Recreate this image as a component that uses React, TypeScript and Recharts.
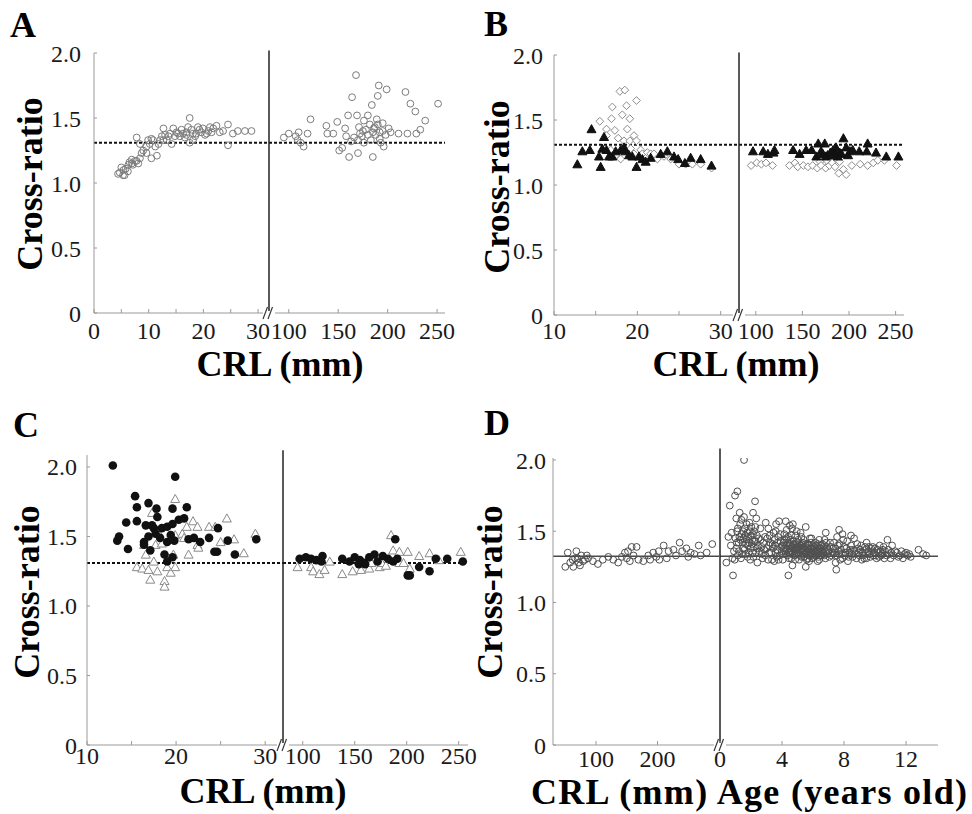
import React from 'react';
import { ScatterChart, Scatter, XAxis, YAxis, ReferenceLine, ReferenceDot } from 'recharts';

type Pt = [number, number];

// ---------- Panel A ----------
const aEmbryoCircles: Pt[] = [
  [4.4,1.07],[4.7,1.08],[5.0,1.12],[5.3,1.06],[5.4,1.10],[5.6,1.06],[5.8,1.11],[6.2,1.09],[6.3,1.14],[6.5,1.16],
  [6.9,1.15],[6.9,1.18],[7.1,1.14],[7.5,1.17],[7.8,1.17],[8.1,1.15],[8.4,1.19],[8.7,1.23],[9.0,1.25],[7.8,1.35],
  [8.4,1.30],[9.6,1.28],[9.6,1.23],[9.9,1.33],[10.2,1.30],[10.5,1.19],[10.5,1.34],[10.8,1.33],[11.2,1.28],[11.5,1.21],
  [11.8,1.30],[12.1,1.33],[12.4,1.36],[12.7,1.42],[12.7,1.33],[13.0,1.37],[13.3,1.33],[13.6,1.36],[13.9,1.38],[14.2,1.30],
  [14.5,1.42],[14.8,1.36],[15.1,1.39],[15.4,1.38],[15.7,1.36],[16.0,1.41],[16.3,1.38],[16.6,1.35],[16.9,1.37],[16.9,1.39],
  [17.2,1.43],[17.5,1.50],[17.5,1.31],[17.8,1.41],[18.1,1.33],[18.1,1.38],[18.5,1.36],[18.7,1.38],[19.0,1.43],[19.3,1.41],
  [19.6,1.39],[19.9,1.42],[20.3,1.37],[20.6,1.38],[20.9,1.40],[21.2,1.43],[21.5,1.39],[21.8,1.42],[22.4,1.44],[23.0,1.39],
  [23.6,1.40],[24.5,1.45],[24.5,1.29],[25.4,1.38],[26.3,1.40],[27.6,1.40],[28.8,1.40],
];
const aFetusCircles: Pt[] = [
  [95,1.35],[100,1.38],[107,1.36],[109,1.33],[110,1.39],[112,1.31],[115,1.28],[119,1.38],[122,1.49],[138,1.44],
  [139,1.38],[145,1.38],[149,1.47],[151,1.25],[154,1.27],[157,1.42],[158,1.36],[160,1.52],[161,1.20],[163,1.32],
  [164,1.66],[166,1.35],[168,1.83],[169,1.52],[170,1.23],[170,1.33],[171,1.43],[172,1.38],[174,1.36],[175,1.40],
  [176,1.48],[176,1.31],[178,1.41],[180,1.52],[180,1.37],[182,1.45],[183,1.33],[184,1.60],[185,1.20],[185,1.39],
  [186,1.42],[187,1.43],[188,1.37],[189,1.49],[190,1.67],[190,1.45],[191,1.75],[192,1.39],[192,1.34],[193,1.31],
  [195,1.46],[195,1.40],[196,1.28],[198,1.37],[199,1.72],[201,1.42],[203,1.39],[211,1.38],[218,1.70],[220,1.38],
  [223,1.61],[228,1.55],[229,1.38],[233,1.41],[238,1.48],[251,1.61],
];

// ---------- Panel B ----------
const bEmbryoDiamonds: Pt[] = [
  [15.5,1.49],[16.3,1.43],[16.3,1.38],[16.8,1.27],[16.9,1.51],[17.0,1.60],[17.3,1.42],[17.4,1.23],[17.7,1.36],[17.9,1.72],
  [18.0,1.20],[18.2,1.54],[18.4,1.34],[18.5,1.73],[18.7,1.61],[18.8,1.43],[19.1,1.51],[19.1,1.34],[19.2,1.28],[19.6,1.38],
  [19.6,1.24],[19.9,1.65],[19.9,1.34],[20.4,1.27],[20.6,1.24],[21.2,1.25],[21.6,1.24],[22.0,1.24],[22.4,1.20],[23.2,1.22],
  [24.0,1.20],[25.0,1.16],[25.8,1.16],[26.6,1.16],[27.6,1.16],[28.9,1.13],
];
const bEmbryoTriangles: Pt[] = [
  [12.8,1.16],[13.4,1.26],[14.3,1.27],[14.5,1.43],[15.4,1.22],[15.6,1.14],[15.8,1.28],[16.0,1.37],[16.3,1.27],[16.6,1.22],
  [17.0,1.22],[17.4,1.26],[18.0,1.27],[18.4,1.29],[18.6,1.26],[19.0,1.23],[19.4,1.22],[19.9,1.14],[20.2,1.22],[20.6,1.20],
  [21.0,1.18],[21.6,1.21],[22.8,1.24],[23.6,1.26],[24.4,1.22],[24.9,1.20],[25.7,1.17],[26.4,1.21],[27.6,1.20],[28.9,1.15],
];
const bFetusDiamonds: Pt[] = [
  [95,1.15],[101,1.17],[106,1.16],[111,1.17],[118,1.15],[136,1.15],[142,1.17],[145,1.14],[151,1.15],[156,1.14],
  [161,1.15],[166,1.13],[169,1.18],[170,1.15],[175,1.13],[176,1.19],[179,1.15],[182,1.17],[185,1.14],[189,1.09],
  [190,1.18],[194,1.12],[197,1.08],[203,1.15],[212,1.16],[220,1.15],[226,1.17],[231,1.19],[238,1.19],[251,1.15],
];
const bFetusTriangles: Pt[] = [
  [97,1.26],[108,1.26],[113,1.24],[119,1.25],[120,1.27],[140,1.27],[147,1.24],[154,1.27],[160,1.27],[165,1.22],
  [167,1.32],[170,1.26],[172,1.24],[174,1.32],[175,1.22],[177,1.23],[180,1.25],[183,1.27],[185,1.23],[186,1.29],
  [188,1.22],[190,1.25],[192,1.24],[194,1.36],[197,1.29],[199,1.23],[201,1.26],[204,1.27],[211,1.26],[219,1.26],
  [220,1.32],[229,1.25],[240,1.22],[253,1.22],
];

// ---------- Panel C ----------
const cEmbryoDots: Pt[] = [
  [12.9,2.01],[13.4,1.47],[13.6,1.50],[14.4,1.60],[14.6,1.41],[15.4,1.79],[15.6,1.71],[15.6,1.61],[16.4,1.44],[16.4,1.46],
  [16.6,1.58],[16.9,1.74],[16.9,1.50],[17.1,1.40],[17.3,1.58],[17.5,1.56],[17.7,1.52],[17.8,1.70],[17.9,1.64],[18.2,1.49],
  [18.4,1.56],[18.7,1.37],[19.0,1.57],[19.0,1.46],[19.0,1.32],[19.4,1.51],[19.6,1.70],[19.6,1.59],[19.6,1.35],[19.8,1.47],
  [19.9,1.93],[20.3,1.62],[20.9,1.63],[21.2,1.71],[21.4,1.48],[22.0,1.49],[22.7,1.46],[23.7,1.49],[24.3,1.39],[24.6,1.39],
  [24.7,1.56],[25.8,1.47],[26.6,1.37],[29.0,1.48],
];
const cEmbryoTriangles: Pt[] = [
  [15.6,1.28],[16.2,1.27],[16.4,1.44],[16.6,1.37],[16.9,1.26],[17.1,1.19],[17.3,1.67],[17.5,1.32],[17.7,1.44],[17.9,1.54],
  [17.9,1.25],[18.4,1.45],[18.7,1.18],[18.7,1.14],[19.0,1.28],[19.4,1.24],[19.7,1.37],[19.9,1.77],[19.9,1.51],[19.9,1.28],
  [20.7,1.52],[20.9,1.49],[21.2,1.57],[21.4,1.37],[21.9,1.61],[22.4,1.57],[22.4,1.44],[22.5,1.42],[23.7,1.57],[24.4,1.57],
  [25.0,1.46],[25.7,1.63],[26.5,1.48],[27.6,1.38],[28.9,1.52],
];
const cFetusDots: Pt[] = [
  [97,1.34],[103,1.35],[108,1.34],[113,1.33],[118,1.32],[119,1.36],[138,1.34],[145,1.32],[150,1.35],[154,1.30],
  [155,1.33],[159,1.31],[160,1.30],[164,1.35],[169,1.37],[172,1.32],[177,1.36],[182,1.34],[187,1.32],[189,1.48],
  [191,1.34],[201,1.22],[203,1.22],[212,1.28],[222,1.25],[228,1.34],[239,1.34],[254,1.32],
];
const cFetusTriangles: Pt[] = [
  [95,1.28],[108,1.28],[110,1.25],[116,1.23],[121,1.26],[126,1.32],[138,1.23],[148,1.25],[156,1.26],[164,1.27],
  [166,1.31],[174,1.28],[176,1.31],[180,1.29],[185,1.51],[187,1.40],[193,1.39],[193,1.31],[197,1.31],[201,1.39],
  [203,1.27],[212,1.36],[222,1.38],[231,1.33],[252,1.39],
];

// ---------- Panel D ----------
const dFetusCircles: Pt[] = [
  [50,1.25],[54,1.35],[58,1.28],[62,1.30],[63,1.25],[66,1.31],[68,1.36],[70,1.31],[72,1.28],[74,1.26],
  [76,1.33],[79,1.29],[82,1.30],[85,1.33],[87,1.31],[95,1.29],[103,1.27],[111,1.30],[120,1.32],[128,1.30],
  [136,1.28],[142,1.32],[147,1.35],[150,1.31],[152,1.36],[155,1.29],[158,1.39],[161,1.33],[166,1.39],[169,1.30],
  [177,1.29],[185,1.33],[188,1.30],[193,1.35],[198,1.32],[202,1.36],[203,1.30],[210,1.40],[215,1.31],[218,1.36],
  [226,1.37],[230,1.33],[236,1.42],[240,1.36],[247,1.38],[250,1.32],[254,1.35],[260,1.34],[267,1.40],[270,1.33],
  [280,1.35],[289,1.41],
];
const dAgeCircles: Pt[] = [
  [0.41,1.28],[0.54,1.46],[0.63,1.68],[0.84,1.19],[0.97,1.75],[1.05,1.59],[1.12,1.78],[1.27,1.63],[1.55,2.00],[2.13,1.63],
  [2.26,1.71],[2.34,1.59],[2.41,1.28],[0.9,1.36],[1.0,1.45],[1.1,1.50],[1.2,1.42],[1.3,1.55],[1.4,1.48],[1.5,1.38],
  [1.6,1.52],[1.7,1.44],[1.8,1.40],[1.9,1.56],[2.0,1.47],[2.1,1.35],[2.2,1.50],[2.3,1.43],[2.4,1.38],[1.15,1.33],
  [1.35,1.31],[1.45,1.42],[1.65,1.34],[1.75,1.49],[1.95,1.30],[2.05,1.41],[2.5,1.45],[0.7,1.40],[0.8,1.31],[1.25,1.46],
  [1.55,1.60],[1.85,1.35],[2.15,1.32],
  [0.95,1.30],[1.05,1.38],[1.15,1.52],[1.22,1.36],[1.32,1.44],[1.38,1.58],[1.42,1.34],[1.48,1.50],[1.52,1.45],[1.58,1.37],
  [1.62,1.47],[1.68,1.41],[1.72,1.55],[1.78,1.32],[1.82,1.46],[1.88,1.42],[1.92,1.50],[1.98,1.38],[2.02,1.53],[2.08,1.44],
  [2.12,1.48],[2.18,1.39],[2.22,1.43],[2.28,1.53],[2.32,1.35],[2.38,1.47],[2.45,1.40],[2.55,1.36],[0.75,1.49],[1.08,1.42],
  [2.6,1.52],[2.7,1.34],[2.8,1.42],[2.95,1.56],[3.0,1.38],[3.1,1.30],[3.2,1.47],[3.3,1.35],[3.4,1.41],[3.5,1.29],
  [3.6,1.50],[3.7,1.37],[3.81,1.57],[3.9,1.43],[3.85,1.33],[2.9,1.46],[3.15,1.40],[3.45,1.49],[3.65,1.32],
  [2.62,1.44],[2.68,1.39],[2.75,1.31],[2.85,1.37],[2.92,1.33],[3.05,1.45],[3.12,1.52],[3.18,1.35],[3.25,1.42],[3.35,1.30],
  [3.42,1.38],[3.52,1.44],[3.58,1.35],[3.62,1.55],[3.72,1.42],[3.78,1.30],[3.88,1.48],[3.95,1.39],[3.55,1.40],[3.75,1.46],
  [4.0,1.36],[4.1,1.42],[4.2,1.38],[4.24,1.57],[4.3,1.45],[4.35,1.33],[4.41,1.19],[4.5,1.40],[4.55,1.35],[4.6,1.47],
  [4.67,1.26],[4.7,1.38],[4.75,1.43],[4.8,1.33],[4.85,1.37],[4.9,1.41],[4.95,1.35],[5.0,1.39],[5.05,1.44],[5.1,1.34],
  [5.15,1.37],[5.2,1.40],[5.25,1.32],[5.3,1.38],[5.35,1.42],[5.4,1.36],[5.45,1.34],[5.5,1.39],[5.53,1.53],[5.53,1.25],
  [5.6,1.36],[5.65,1.41],[5.7,1.33],[5.75,1.37],[5.8,1.45],[5.85,1.35],[5.9,1.38],[5.95,1.31],[6.0,1.40],[6.05,1.36],
  [6.1,1.33],[6.15,1.42],[6.2,1.37],[6.25,1.34],[6.3,1.39],[6.35,1.32],[6.4,1.44],[6.45,1.36],[6.5,1.38],[6.55,1.33],
  [6.6,1.41],[6.65,1.35],[6.7,1.37],[6.82,1.49],[6.8,1.31],[6.9,1.39],[4.05,1.30],[4.45,1.31],[4.15,1.48],[4.65,1.52],
  [5.75,1.29],[6.3,1.29],[4.25,1.34],[4.55,1.41],[4.85,1.30],[5.25,1.46],[5.65,1.31],[6.0,1.34],
  [4.02,1.40],[4.08,1.34],[4.12,1.38],[4.18,1.44],[4.22,1.36],[4.28,1.40],[4.32,1.37],[4.38,1.42],[4.42,1.35],[4.48,1.38],
  [4.52,1.44],[4.58,1.36],[4.62,1.39],[4.68,1.34],[4.72,1.41],[4.78,1.36],[4.82,1.40],[4.88,1.34],[4.92,1.38],[4.98,1.42],
  [5.02,1.35],[5.08,1.39],[5.12,1.41],[5.18,1.33],[5.22,1.37],[5.28,1.41],[5.32,1.35],[5.38,1.39],[5.42,1.32],[5.48,1.37],
  [5.52,1.41],[5.58,1.34],[5.62,1.38],[5.68,1.36],[5.72,1.40],[5.78,1.33],[5.82,1.38],[5.88,1.42],[5.92,1.35],[5.98,1.37],
  [6.02,1.32],[6.08,1.39],[6.12,1.36],[6.18,1.40],[6.22,1.33],[6.28,1.36],[6.32,1.41],[6.38,1.35],[6.42,1.38],[6.48,1.33],
  [6.52,1.40],[6.58,1.36],[6.62,1.34],[6.68,1.39],[6.72,1.33],[6.78,1.36],[6.85,1.42],[6.92,1.34],[6.98,1.37],[4.4,1.46],
  [4.9,1.47],[5.4,1.44],[5.9,1.45],[6.4,1.30],[5.1,1.30],[4.6,1.31],[5.6,1.30],[6.75,1.44],[4.3,1.51],[4.5,1.54],
  [4.7,1.55],[4.95,1.50],[5.2,1.49],
  [7.0,1.36],[7.1,1.42],[7.2,1.33],[7.3,1.38],[7.46,1.28],[7.5,1.23],[7.4,1.35],[7.6,1.40],[7.68,1.51],[7.7,1.34],
  [7.8,1.37],[7.9,1.31],[8.0,1.39],[8.1,1.35],[8.2,1.43],[8.3,1.32],[8.4,1.37],[8.5,1.34],[8.65,1.45],[8.7,1.36],
  [8.8,1.31],[8.9,1.38],[9.0,1.33],[9.1,1.40],[9.2,1.35],[9.3,1.31],[9.4,1.37],[9.5,1.34],[9.6,1.39],[9.7,1.32],
  [9.8,1.36],[9.9,1.33],[10.0,1.38],[10.1,1.31],[10.2,1.35],[10.3,1.40],[10.4,1.33],[10.5,1.37],[10.6,1.31],[10.8,1.44],
  [10.9,1.34],[11.1,1.40],[11.0,1.31],[11.3,1.36],[11.5,1.32],[11.7,1.36],[11.9,1.34],[12.1,1.33],[12.3,1.32],[12.8,1.37],
  [13.1,1.34],[13.3,1.33],[7.55,1.46],[8.25,1.29],[9.15,1.30],[9.85,1.39],[10.65,1.36],
  [7.05,1.32],[7.15,1.39],[7.25,1.35],[7.35,1.42],[7.45,1.38],[7.52,1.33],[7.62,1.36],[7.72,1.41],[7.75,1.30],[7.85,1.34],
  [7.95,1.44],[8.05,1.33],[8.15,1.38],[8.35,1.35],[8.45,1.40],[8.55,1.32],[8.6,1.37],[8.75,1.34],[8.85,1.41],[8.95,1.35],
  [9.05,1.37],[9.25,1.33],[9.35,1.39],[9.45,1.31],[9.55,1.36],[9.65,1.34],[9.75,1.38],[9.95,1.35],[10.05,1.33],[10.15,1.37],
  [10.25,1.32],[10.35,1.36],[10.45,1.34],[10.55,1.39],[10.75,1.33],[10.85,1.37],[11.05,1.35],[11.2,1.33],[11.4,1.35],[11.6,1.33],
  [11.8,1.31],[12.0,1.35],[12.2,1.34],[7.9,1.48],[8.45,1.47],[9.45,1.42],
];

// ---------- Axes ----------
const yTicks = [0, 0.5, 1, 1.5, 2];
const aEmbryoTicks = [0, 5, 10, 15, 20, 25, 30];
const aEmbryoLabels = [0, 10, 20, 30];
const crlTicks = [100, 150, 200, 250];
const bcEmbryoTicks = [10, 15, 20, 25, 30];
const bcEmbryoLabels = [10, 20, 30];
const dCrlTicks = [100, 200];
const dAgeTicks = [0, 4, 8, 12];

const referenceRatio = 1.31;
const dReferenceRatio = 1.325;

const FONT = '"Liberation Serif", "Times New Roman", Times, serif';

// ---------- Marker shapes ----------
const openCircle = (r: number, stroke: string) => (p: any) => (
  <circle cx={p.cx} cy={p.cy} r={r} fill="none" stroke={stroke} strokeWidth={1} />
);
const openDiamond = (p: any) => {
  const s = 3.9;
  return (
    <polygon
      points={`${p.cx},${p.cy - s} ${p.cx + s},${p.cy} ${p.cx},${p.cy + s} ${p.cx - s},${p.cy}`}
      fill="#fff" stroke="#8c8c8c" strokeWidth={1}
    />
  );
};
const triangle = (fill: string, stroke: string) => (p: any) => {
  const s = 4.5;
  return (
    <polygon
      points={`${p.cx},${p.cy - s} ${p.cx + s},${p.cy + s * 0.8} ${p.cx - s},${p.cy + s * 0.8}`}
      fill={fill} stroke={stroke} strokeWidth={1}
    />
  );
};
const filledDot = (p: any) => <circle cx={p.cx} cy={p.cy} r={4.3} fill="#111" />;

const BreakMark = (p: any) => {
  const { cx, cy } = p;
  return (
    <g>
      <rect x={cx - 6} y={cy - 2} width={12} height={4} fill="#fff" />
      <line x1={cx - 6} y1={cy + 6} x2={cx - 1.5} y2={cy - 6} stroke="#333" strokeWidth={1.2} />
      <line x1={cx - 1} y1={cy + 6} x2={cx + 3.5} y2={cy - 6} stroke="#333" strokeWidth={1.2} />
    </g>
  );
};

type Series = { name: string; data: Pt[]; shape: (p: any) => React.ReactElement };

interface SubPlotProps {
  left: number; right: number; top: number; bottom: number;
  xDomain: [number, number]; yMax: number;
  xTicks: number[]; xLabels: number[];
  series: Series[];
  showY?: boolean; yGap?: number; xLabelOffset: number;
  refY: number; refDashed: boolean;
  dividerTop?: number;
}

function SubPlot(p: SubPlotProps) {
  const padL = p.showY ? 90 : 14;
  const padR = 14, padT = 20, padB = 45;
  const yW = p.showY ? 80 : 0;
  const xH = 40;
  const w = p.right - p.left + padL + padR;
  const h = p.bottom - p.top + padT + padB;
  const fs = 24;
  const tickStyle = { fontFamily: FONT, fontSize: fs, fill: '#1a1a1a' };
  return (
    <div style={{ position: 'absolute', left: p.left - padL, top: p.top - padT, width: w, height: h }}>
      <ScatterChart width={w} height={h} margin={{ top: padT, right: padR, bottom: padB - xH, left: padL - yW }}>
        <XAxis
          type="number" dataKey="x" domain={p.xDomain} allowDataOverflow
          ticks={p.xTicks} interval={0}
          tickFormatter={(v: number) => (p.xLabels.includes(v) ? String(v) : '')}
          height={xH} stroke="#9a9a9a" tickSize={-4} tickMargin={p.xLabelOffset - 9 + 4}
          tick={tickStyle}
        />
        <YAxis
          type="number" dataKey="y" domain={[0, p.yMax]} allowDataOverflow
          hide={!p.showY} width={yW} ticks={yTicks} interval={0}
          tickFormatter={(v: number) => (v === 0 ? '0' : v.toFixed(1))}
          stroke="#9a9a9a" tickSize={-3} tickMargin={(p.yGap ?? 10) + 3}
          tick={tickStyle}
        />
        <ReferenceLine
          y={p.refY} ifOverflow="visible"
          stroke={p.refDashed ? '#111' : '#4a4a4a'}
          strokeWidth={p.refDashed ? 2 : 1.6}
          strokeDasharray={p.refDashed ? '3 2' : undefined}
        />
        {p.series.map((s) => (
          <Scatter
            key={s.name} name={s.name}
            data={s.data.map(([x, y]) => ({ x, y }))}
            shape={s.shape} isAnimationActive={false}
          />
        ))}
        {p.dividerTop !== undefined && (
          <ReferenceLine
            segment={[{ x: p.xDomain[0], y: 0 }, { x: p.xDomain[0], y: p.dividerTop }]}
            stroke="#222" strokeWidth={1.5} ifOverflow="visible"
          />
        )}
        {p.dividerTop !== undefined && (
          <ReferenceDot x={p.xDomain[0]} y={0} ifOverflow="visible" shape={BreakMark} />
        )}
      </ScatterChart>
    </div>
  );
}

const titleStyle: React.CSSProperties = { fontFamily: FONT, fontWeight: 'bold' };

export default function App() {
  const circA = openCircle(3.4, '#7c7c7c');
  const circD = openCircle(3.4, '#505050');
  const triBlack = triangle('#111', '#111');
  const triOpen = triangle('#fff', '#8a8a8a');
  return (
    <div style={{ position: 'absolute', left: 0, top: 0, width: 972, height: 814, background: '#fff', overflow: 'hidden' }}>
      {/* Panel A */}
      <SubPlot left={94} right={269} top={53} bottom={313} xDomain={[0, 32]} yMax={2}
        xTicks={aEmbryoTicks} xLabels={aEmbryoLabels} showY yGap={13} xLabelOffset={18}
        refY={referenceRatio} refDashed series={[{ name: 'aE', data: aEmbryoCircles, shape: circA }]} />
      <SubPlot left={269} right={445} top={53} bottom={313} xDomain={[80, 258]} yMax={2}
        xTicks={crlTicks} xLabels={crlTicks} xLabelOffset={18} dividerTop={2.02}
        refY={referenceRatio} refDashed series={[{ name: 'aF', data: aFetusCircles, shape: circA }]} />

      {/* Panel B */}
      <SubPlot left={554} right={739} top={55} bottom={315} xDomain={[10, 32.2]} yMax={2}
        xTicks={bcEmbryoTicks} xLabels={bcEmbryoLabels} showY yGap={11} xLabelOffset={16}
        refY={referenceRatio} refDashed
        series={[{ name: 'bED', data: bEmbryoDiamonds, shape: openDiamond }, { name: 'bET', data: bEmbryoTriangles, shape: triBlack }]} />
      <SubPlot left={739} right={904} top={55} bottom={315} xDomain={[82, 259]} yMax={2}
        xTicks={crlTicks} xLabels={crlTicks} xLabelOffset={16} dividerTop={2.02}
        refY={referenceRatio} refDashed
        series={[{ name: 'bFD', data: bFetusDiamonds, shape: openDiamond }, { name: 'bFT', data: bFetusTriangles, shape: triBlack }]} />

      {/* Panel C */}
      <SubPlot left={87} right={283} top={455} bottom={745} xDomain={[10, 32]} yMax={2.086}
        xTicks={bcEmbryoTicks} xLabels={bcEmbryoLabels} showY yGap={10} xLabelOffset={11}
        refY={referenceRatio} refDashed
        series={[{ name: 'cET', data: cEmbryoTriangles, shape: triOpen }, { name: 'cED', data: cEmbryoDots, shape: filledDot }]} />
      <SubPlot left={283} right={468} top={455} bottom={745} xDomain={[81, 259]} yMax={2.086}
        xTicks={crlTicks} xLabels={crlTicks} xLabelOffset={11} dividerTop={2.12}
        refY={referenceRatio} refDashed
        series={[{ name: 'cFT', data: cFetusTriangles, shape: triOpen }, { name: 'cFD', data: cFetusDots, shape: filledDot }]} />

      {/* Panel D */}
      <SubPlot left={553} right={719} top={458} bottom={745} xDomain={[30, 300]} yMax={2.014}
        xTicks={dCrlTicks} xLabels={dCrlTicks} showY yGap={7} xLabelOffset={14}
        refY={dReferenceRatio} refDashed={false} series={[{ name: 'dF', data: dFetusCircles, shape: circD }]} />
      <SubPlot left={720} right={938} top={458} bottom={745} xDomain={[0, 14.06]} yMax={2.014}
        xTicks={dAgeTicks} xLabels={dAgeTicks} xLabelOffset={14} dividerTop={2.08}
        refY={dReferenceRatio} refDashed={false} series={[{ name: 'dA', data: dAgeCircles, shape: circD }]} />

      <svg width={972} height={814} style={{ position: 'absolute', left: 0, top: 0, pointerEvents: 'none' }}>
        <g style={titleStyle} fill="#000">
          <text x={10} y={37} fontSize={36}>A</text>
          <text x={484} y={36} fontSize={36}>B</text>
          <text x={13} y={437} fontSize={36}>C</text>
          <text x={484} y={435} fontSize={36}>D</text>

          <text x={280} y={376} fontSize={36} textAnchor="middle">CRL (mm)</text>
          <text x={736} y={376} fontSize={36} textAnchor="middle">CRL (mm)</text>
          <text x={263} y={803} fontSize={36} textAnchor="middle">CRL (mm)</text>
          <text x={749} y={804} fontSize={36} textAnchor="middle" textLength={436} lengthAdjust="spacing">CRL (mm) Age (years old)</text>

          <text x={42} y={184} fontSize={36} textAnchor="middle" transform="rotate(-90 42 184)">Cross-ratio</text>
          <text x={509} y={187} fontSize={36} textAnchor="middle" transform="rotate(-90 509 187)">Cross-ratio</text>
          <text x={39} y={592} fontSize={36} textAnchor="middle" transform="rotate(-90 39 592)">Cross-ratio</text>
          <text x={502} y={592} fontSize={36} textAnchor="middle" transform="rotate(-90 502 592)">Cross-ratio</text>
        </g>
      </svg>
    </div>
  );
}
